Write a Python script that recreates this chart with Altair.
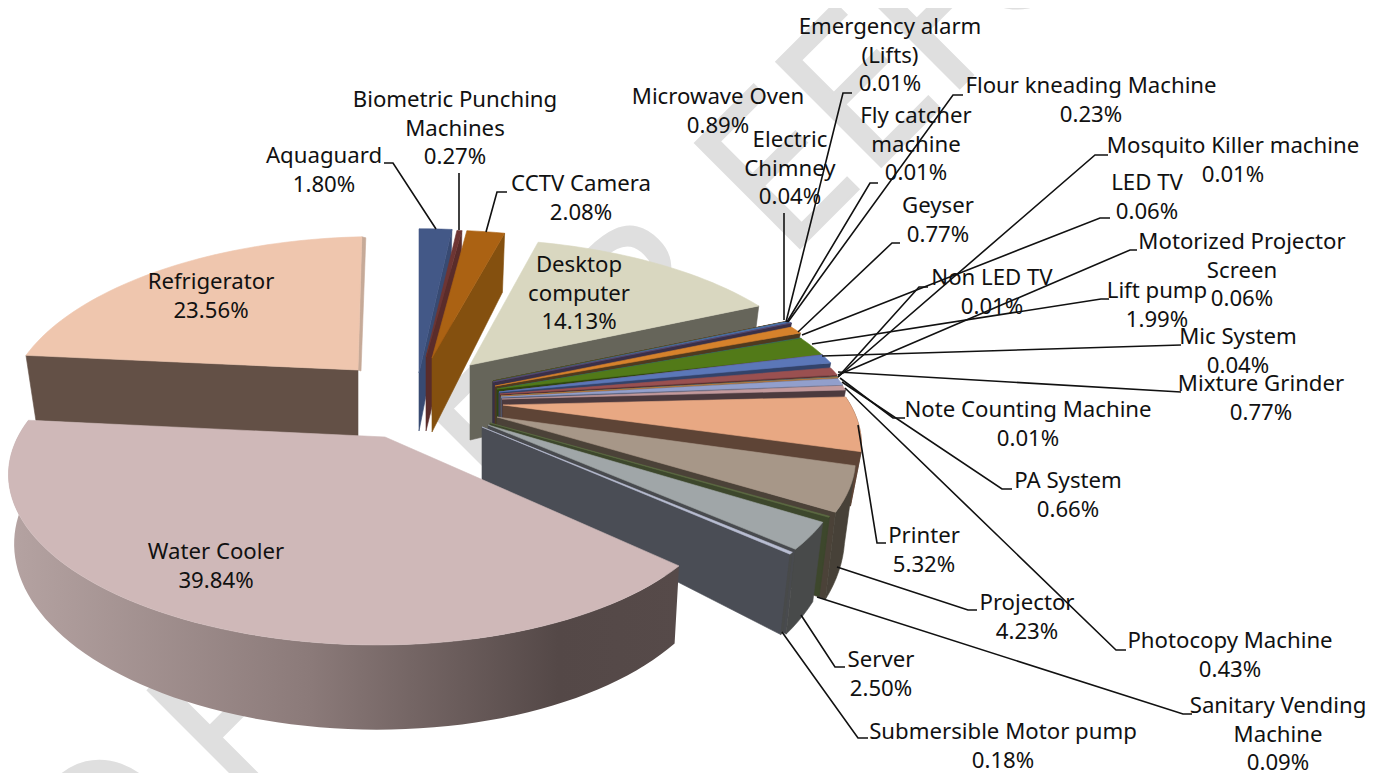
import math
import altair as alt
import pandas as pd

# ---- data ----
names = ["Aquaguard", "Biometric Punching\nMachines", "CCTV Camera", "Desktop\ncomputer", "Electric\nChimney",
         "Emergency alarm\n(Lifts)", "Flour kneading Machine", "Fly catcher\nmachine", "Geyser", "LED TV", "Lift pump",
         "Mic System", "Microwave Oven", "Mixture Grinder", "Mosquito Killer machine", "Motorized Projector\nScreen",
         "Non LED TV", "Note Counting Machine", "PA System", "Photocopy Machine", "Printer", "Projector",
         "Sanitary Vending\nMachine", "Server", "Submersible Motor pump", "Water Cooler", "Refrigerator"]
shares = [1.80, 0.27, 2.08, 14.13, 0.04, 0.01, 0.23, 0.01, 0.77, 0.06, 1.99, 0.04, 0.89, 0.77, 0.01, 0.06,
          0.01, 0.01, 0.66, 0.43, 5.32, 4.23, 0.09, 2.50, 0.18, 39.84, 23.56]
top_colors = ["#435887", "#6e3533", "#ab6213", "#d9d7c0", "#7a3a20", "#4a5a30", "#4b6ea8", "#5a4a70", "#d6822b",
              "#2f6a78", "#527a18", "#6e5a80", "#5b77b8", "#9a5050", "#6a7a40", "#6a5a80", "#3a8090", "#c08040",
              "#929fcc", "#c49a9c", "#e8a883", "#a79788", "#5d6b43", "#a0a6a8", "#b8bdd2", "#cfb8b8", "#efc6ae"]
face_colors = ["#384a72", "#5a2c2a", "#84500f", "#66655a", "#4a2515", "#303a20", "#2c3e5e", "#3a3048", "#4f3a1f",
               "#1e4550", "#2f4510", "#463a50", "#33436a", "#5a3030", "#454f2a", "#443a50", "#25525c", "#6e4a25",
               "#565e78", "#4c3a3e", "#5e4436", "#4b4238", "#3d472c", "#484a4e", "#4a4d55", "#584c4b", "#635046"]
rim_wall_colors = {20: "#5e4436", 21: "#474138", 22: "#3d472c", 23: "#484a4a", 24: "#484a4a"}

# ---- slice layout (pixels of the picture): cut corner, rim centre, rim x scale, wall height ----
apex_x = [419, 426, 432, 470, 493, 493, 493, 493, 495, 497, 497, 499, 499, 500, 501, 501, 501, 501, 501, 502, 503,
          497, 490, 488, 482, 385, 358]
apex_y = [373, 357, 358, 365, 381, 381, 382, 382, 386, 389, 389, 392, 392, 394, 396, 396, 396, 396, 397, 399, 405,
          417, 423, 425, 427, 437, 370]
rim_x = [419, 424, 429, 464, 487, 487, 487, 487, 487, 487, 487, 487, 487, 487, 487, 487, 487, 487, 487, 487, 487,
         481, 475, 469, 466, 368, 362]
rim_y = [354, 355, 355, 364, 379, 379, 379, 379, 383, 388, 388, 388, 388, 393, 395, 395, 395, 395, 396, 397, 404,
         418, 422, 427, 430, 438, 362]
rim_sx = [1.0, 1.0, 1.0, 0.98] + [1.0] * 21 + [0.96, 0.95]
rim_skew = [0.0] * 25 + [0.012, -0.021]
wall_h = [58, 74, 74, 75] + [60] * 16 + [45, 68, 60, 60, 55, 66, 67]
wall_g = [0.12] * 4 + [0.2] * 21 + [0.09, 0.13]
shrink = [0.97] * 25 + [0.985, 0.97]
START_DEG, TILT, RX, RY = 270.0, 0.246, 363.0, 156.0

label_x = [324, 455, 581, 579, 790, 890, 1091, 916, 938, 1147, 1157, 1238, 718, 1261, 1233, 1242, 992, 1028, 1068,
           1230, 924, 1027, 1278, 881, 1003, 216, 211]
label_y = [156, 100, 184, 265, 140, 27, 86, 116, 206, 183, 291, 337, 97, 384, 146, 242, 278, 410, 481, 641, 536,
           603, 706, 660, 732, 552, 282]

leaders = {
    "Aquaguard": [(436, 229), (393, 163), (384, 163)],
    "Biometric": [(459, 230), (459, 173)],
    "CCTV": [(486, 232), (497, 192), (507, 192)],
    "Electric": [(784, 320), (784, 213)],
    "Emergency": [(786, 322), (843, 93), (852, 93)],
    "Fly": [(787, 322), (870, 183), (878, 183)],
    "Flour": [(788, 322), (953, 95), (963, 95)],
    "Geyser": [(798, 332), (892, 243), (900, 243)],
    "LED": [(802, 335), (1100, 218), (1110, 218)],
    "Lift": [(812, 344), (1101, 299), (1109, 299)],
    "Mic": [(822, 356), (1181, 345)],
    "Mixture": [(838, 372), (1181, 392)],
    "Mosquito": [(838, 377), (1095, 155), (1108, 155)],
    "Motorized": [(838, 375), (1130, 250), (1137, 250)],
    "NonLED": [(838, 377), (919, 287), (928, 287)],
    "Note": [(840, 378), (893, 418), (905, 418)],
    "PA": [(842, 382), (1002, 489), (1012, 489)],
    "Photocopy": [(845, 388), (1116, 650), (1126, 650)],
    "Printer": [(858, 425), (877, 543), (886, 543)],
    "Projector": [(837, 567), (968, 610), (977, 610)],
    "Sanitary": [(817, 597), (1183, 714), (1192, 714)],
    "Server": [(801, 615), (835, 667), (845, 667)],
    "Submersible": [(782, 632), (858, 738), (868, 738)],
}

watermark_letters = ["O", "F", "E", "R", "E", "E", "F", "O"]
watermark_t = [-516, -350, 50, 245, 428, 543, 650, 762]
WATERMARK_BASE = 1048


# ---- geometry derived from the shares ----
def rim(theta, i):
    t = math.radians(theta)
    w = 1 - TILT * math.sin(t)
    dx = rim_sx[i] * RX * math.cos(t) / w
    return (rim_x[i] + dx, rim_y[i] + RY * math.sin(t) / w + rim_skew[i] * dx)


def lower(p, i):
    return (apex_x[i] + (p[0] - apex_x[i]) * shrink[i], p[1] + wall_h[i] + wall_g[i] * (p[1] - apex_y[i]))


rows, water_wall, water_top = [], [], []


def add(store, key, pts, fill):
    for n, (x, y) in enumerate(pts):
        store.append({"poly": key, "i": n, "x": x, "y": y, "fill": fill})


cum = 0.0
for i, name in enumerate(names):
    a0 = START_DEG + 3.6 * cum
    a1 = a0 + 3.6 * shares[i]
    cum += shares[i]
    steps = max(2, int(shares[i] * 2))
    arc = [a0 + (a1 - a0) * k / steps for k in range(steps + 1)]
    pts = [rim(t, i) for t in arc]
    apex = (apex_x[i], apex_y[i])
    top = [apex] + pts
    if i == 25:
        add(water_wall, "wall", pts + [lower(p, i) for p in reversed(pts)], "w")
        add(water_top, "top", top, top_colors[i])
        continue
    if i == 26:
        edge = pts[0]
        sliver = [pts[-1], (pts[-1][0] + 4, pts[-1][1] + 1), (apex[0] + 3, apex[1] + 1), apex]
        add(rows, f"{i:02d}s", sliver, "#c6aa98")
    else:
        edge = pts[-1]
    low_apex = (apex[0], apex[1] + wall_h[i])
    add(rows, f"{i:02d}f", [apex, edge, lower(edge, i), low_apex], face_colors[i])
    if i in rim_wall_colors:
        add(rows, f"{i:02d}w", pts + [lower(p, i) for p in reversed(pts)], rim_wall_colors[i])
    add(rows, f"{i:02d}t", top, top_colors[i])

line_rows = []
for key, pts in leaders.items():
    for n, (x, y) in enumerate(pts):
        line_rows.append({"id": key, "i": n, "x": x, "y": y})

label_rows = [{"text": f"{n}\n{s:.2f}%", "x": x, "y": y} for n, s, x, y in zip(names, shares, label_x, label_y)]
wm_rows = [{"text": c, "x": (WATERMARK_BASE + 1.414 * t) / 2, "y": (WATERMARK_BASE - 1.414 * t) / 2}
           for c, t in zip(watermark_letters, watermark_t)]

W, H = 1359, 765
X = alt.X("x:Q", axis=None, scale=alt.Scale(domain=[8, 8 + W], range=[0, W]))
Y = alt.Y("y:Q", axis=None, scale=alt.Scale(domain=[8, 8 + H], range=[0, H]))


def polys(data):
    return alt.Chart(pd.DataFrame(data)).mark_line(strokeWidth=0.6, interpolate="linear-closed", clip=False).encode(
        x=X, y=Y, detail="poly:N", order="i:Q",
        fill=alt.Fill("fill:N", scale=None), stroke=alt.Stroke("fill:N", scale=None))


wall_grad = alt.Gradient(gradient="linear", x1=0, x2=1, y1=0, y2=0, stops=[
    alt.GradientStop(offset=0, color="#b5a3a2"), alt.GradientStop(offset=0.45, color="#8b7a79"),
    alt.GradientStop(offset=0.82, color="#544847"), alt.GradientStop(offset=1, color="#564a49")])

water_wall_layer = alt.Chart(pd.DataFrame(water_wall)).mark_line(
    fill=wall_grad, strokeWidth=0, interpolate="linear-closed").encode(x=X, y=Y, order="i:Q")

watermark = alt.Chart(pd.DataFrame(wm_rows)).mark_text(
    font="Noto Sans", fontSize=208, angle=315, align="center", baseline="alphabetic",
    color="#dfdfdf", stroke="#dfdfdf", strokeWidth=2).encode(x=X, y=Y, text="text:N")
lines = alt.Chart(pd.DataFrame(line_rows)).mark_line(color="#111111", strokeWidth=1.6).encode(
    x=X, y=Y, detail="id:N", order="i:Q")
labels = alt.Chart(pd.DataFrame(label_rows)).mark_text(
    font="Noto Sans", fontSize=22.2, lineBreak="\n", lineHeight=28.7, align="center", baseline="middle",
    color="#111111").encode(x=X, y=Y, text="text:N")

chart = alt.layer(watermark, polys(rows), water_wall_layer, polys(water_top), lines, labels).properties(
    width=W, height=H, padding=0, autosize=alt.AutoSizeParams(type="none"), background="white"
).configure_view(strokeWidth=0)

chart.save("out.html", embed_options={"renderer": "svg", "actions": False})
